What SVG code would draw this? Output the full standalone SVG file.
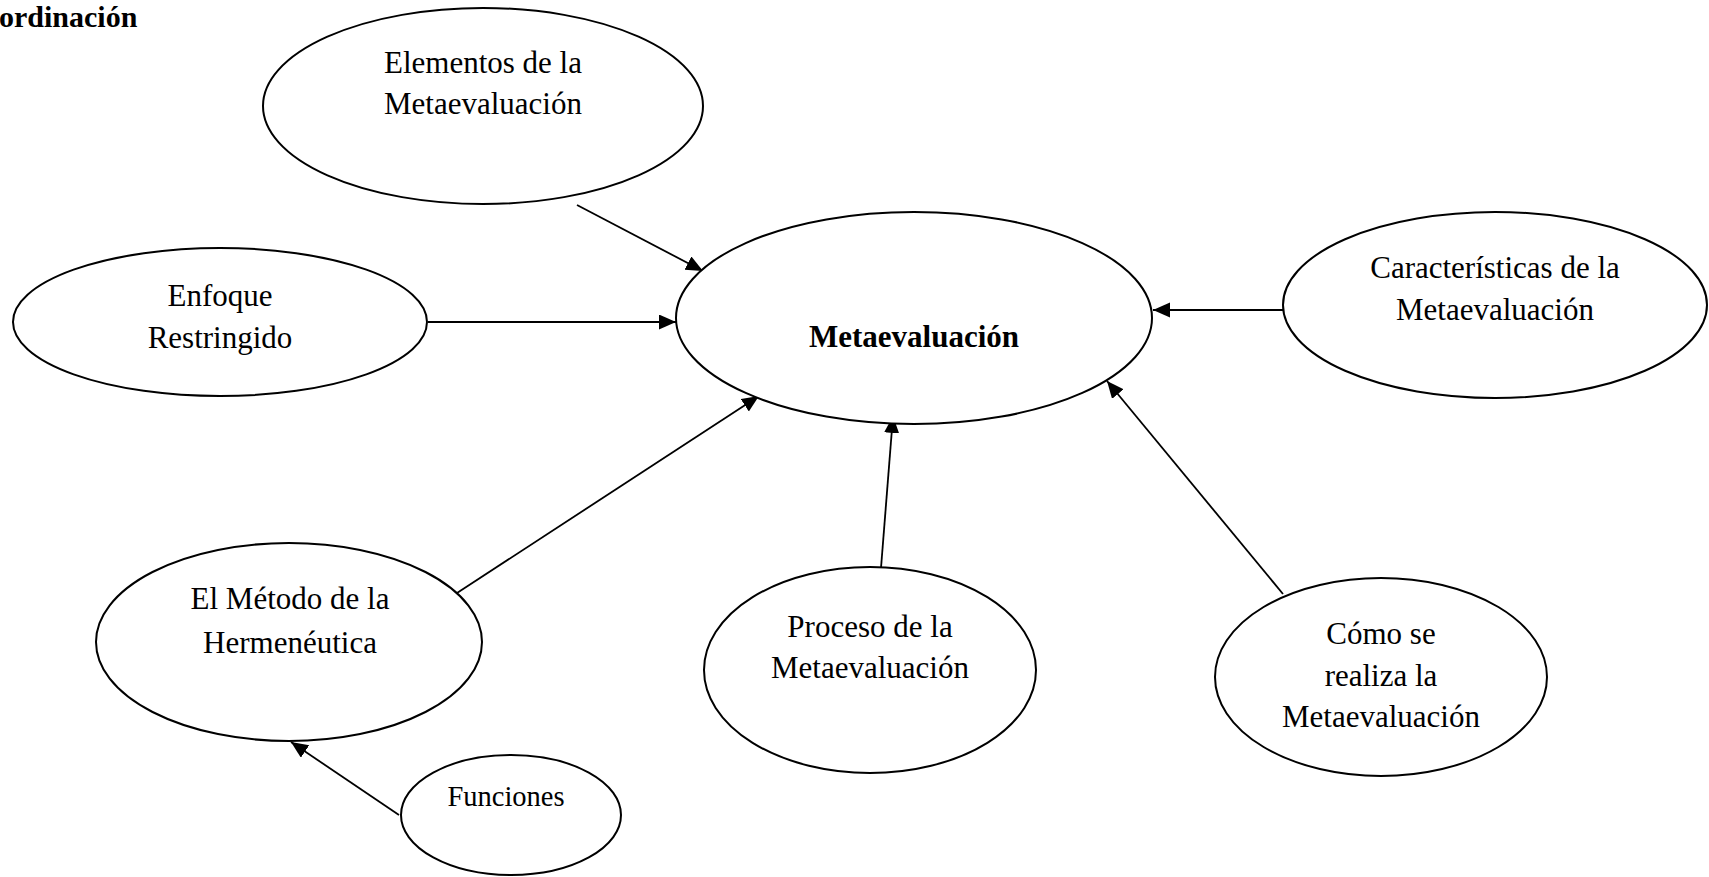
<svg xmlns="http://www.w3.org/2000/svg" width="1709" height="877" viewBox="0 0 1709 877">
<style>
.n{fill:#fff;stroke:#000;stroke-width:2}
.t{font-family:"Liberation Serif","Times New Roman",serif;font-size:31px;fill:#000;text-anchor:middle}
.b{font-weight:bold}
.c{fill:none;stroke:#000;stroke-width:1.8}
</style>
<defs>
<marker id="ah" markerUnits="userSpaceOnUse" markerWidth="18" markerHeight="16" refX="17" refY="7.5" orient="auto">
<path d="M0,0 L17,7.5 L0,15 z" fill="#000"/>
</marker>
</defs>
<rect width="1709" height="877" fill="#fff"/>
<text x="-1" y="27" class="t b" style="text-anchor:start;font-size:30px">ordinación</text>
<g id="connectors">
<line class="c" x1="577" y1="205" x2="703" y2="271" marker-end="url(#ah)"/>
<line class="c" x1="428" y1="322" x2="676" y2="322" marker-end="url(#ah)"/>
<line class="c" x1="1283" y1="310" x2="1153" y2="310" marker-end="url(#ah)"/>
<line class="c" x1="457" y1="593" x2="759" y2="396" marker-end="url(#ah)"/>
<line class="c" x1="881" y1="568" x2="893" y2="416" marker-end="url(#ah)"/>
<line class="c" x1="1283" y1="594" x2="1107" y2="381" marker-end="url(#ah)"/>
<line class="c" x1="399" y1="815" x2="291" y2="742" marker-end="url(#ah)"/>
</g>
<g id="elementos">
<ellipse class="n" cx="483" cy="106" rx="220" ry="98"/>
<text class="t" x="483" y="73">Elementos de la</text>
<text class="t" x="483" y="114">Metaevaluación</text>
</g>
<g id="enfoque">
<ellipse class="n" cx="220" cy="322" rx="207" ry="74"/>
<text class="t" x="220" y="306">Enfoque</text>
<text class="t" x="220" y="348">Restringido</text>
</g>
<g id="meta">
<ellipse class="n" cx="914" cy="318" rx="238" ry="106"/>
<text class="t b" x="914" y="347">Metaevaluación</text>
</g>
<g id="caracteristicas">
<ellipse class="n" cx="1495" cy="305" rx="212" ry="93"/>
<text class="t" x="1495" y="278">Características de la</text>
<text class="t" x="1495" y="320">Metaevaluación</text>
</g>
<g id="metodo">
<ellipse class="n" cx="289" cy="642" rx="193" ry="99"/>
<text class="t" x="290" y="609">El Método de la</text>
<text class="t" x="290" y="653">Hermenéutica</text>
</g>
<g id="proceso">
<ellipse class="n" cx="870" cy="670" rx="166" ry="103"/>
<text class="t" x="870" y="637">Proceso de la</text>
<text class="t" x="870" y="678">Metaevaluación</text>
</g>
<g id="como">
<ellipse class="n" cx="1381" cy="677" rx="166" ry="99"/>
<text class="t" x="1381" y="644">Cómo se</text>
<text class="t" x="1381" y="686">realiza la</text>
<text class="t" x="1381" y="727">Metaevaluación</text>
</g>
<g id="funciones">
<ellipse class="n" cx="511" cy="815" rx="110" ry="60"/>
<text class="t" x="506" y="806" style="font-size:28.5px">Funciones</text>
</g>
</svg>
